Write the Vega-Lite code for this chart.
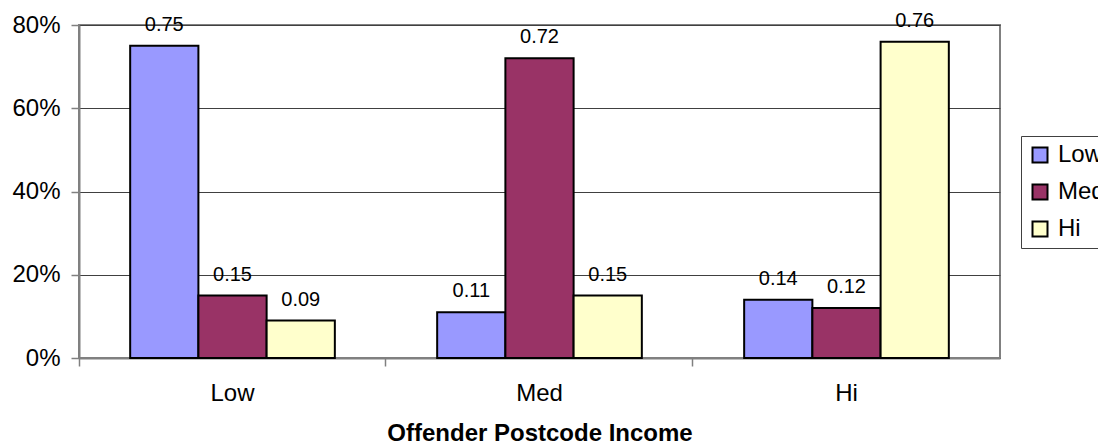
{
  "$schema": "https://vega.github.io/schema/vega-lite/v6.json",
  "width": 921,
  "height": 333,
  "autosize": {"type": "none"},
  "padding": {"left": 79, "top": 25, "right": 98, "bottom": 88},
  "background": "white",
  "config": {
    "font": "Liberation Sans",
    "view": {"stroke": "#808080", "strokeWidth": 2}
  },
  "data": {
    "values": [
      {"income": "Low", "series": "Low", "share": 0.75},
      {"income": "Low", "series": "Med", "share": 0.15},
      {"income": "Low", "series": "Hi", "share": 0.09},
      {"income": "Med", "series": "Low", "share": 0.11},
      {"income": "Med", "series": "Med", "share": 0.72},
      {"income": "Med", "series": "Hi", "share": 0.15},
      {"income": "Hi", "series": "Low", "share": 0.14},
      {"income": "Hi", "series": "Med", "share": 0.12},
      {"income": "Hi", "series": "Hi", "share": 0.76}
    ]
  },
  "encoding": {
    "x": {
      "field": "income",
      "type": "nominal",
      "sort": ["Low", "Med", "Hi"],
      "scale": {"paddingInner": 0.3333, "paddingOuter": 0.1667},
      "axis": {
        "title": "Offender Postcode Income",
        "titleFontSize": 24,
        "titleFontWeight": "bold",
        "titleColor": "black",
        "titleY": 75,
        "titleBaseline": "middle",
        "labelAngle": 0,
        "labelFontSize": 24,
        "labelColor": "black",
        "labelBaseline": "middle",
        "labelPadding": 27,
        "bandPosition": -0.25,
        "tickSize": 8,
        "tickColor": "#808080",
        "tickWidth": 1.5,
        "domainColor": "#808080",
        "domainWidth": 2,
        "grid": false
      }
    },
    "xOffset": {
      "field": "series",
      "sort": ["Low", "Med", "Hi"],
      "scale": {"paddingInner": 0, "paddingOuter": 0}
    },
    "y": {
      "field": "share",
      "type": "quantitative",
      "scale": {"domain": [0, 0.8], "nice": false},
      "axis": {
        "title": null,
        "format": "%",
        "values": [0, 0.2, 0.4, 0.6, 0.8],
        "labelFontSize": 24,
        "labelColor": "black",
        "labelPadding": 11,
        "tickSize": 8,
        "tickColor": "#808080",
        "tickWidth": 1.5,
        "domainColor": "#808080",
        "domainWidth": 2,
        "grid": true,
        "gridColor": "#404040",
        "gridWidth": 1,
        "gridOpacity": 1
      }
    }
  },
  "layer": [
    {
      "mark": {"type": "bar", "stroke": "black", "strokeWidth": 2, "opacity": 1},
      "encoding": {
        "color": {
          "field": "series",
          "type": "nominal",
          "scale": {"domain": ["Low", "Med", "Hi"], "range": ["#9999FF", "#993366", "#FFFFCC"]},
          "legend": {
            "title": null,
            "orient": "none",
            "legendX": 942,
            "legendY": 111,
            "symbolType": "square",
            "symbolSize": 225,
            "symbolStrokeColor": "black",
            "symbolStrokeWidth": 2,
            "symbolOpacity": 1,
            "labelFontSize": 24,
            "labelColor": "black",
            "labelOffset": 6,
            "rowPadding": 13,
            "padding": 7,
            "strokeColor": "#404040",
            "fillColor": "white"
          }
        }
      }
    },
    {
      "mark": {"type": "text", "baseline": "alphabetic", "dy": -15, "fontSize": 20, "color": "black"},
      "encoding": {
        "text": {"field": "share", "type": "quantitative", "format": ".2f"}
      }
    }
  ]
}
